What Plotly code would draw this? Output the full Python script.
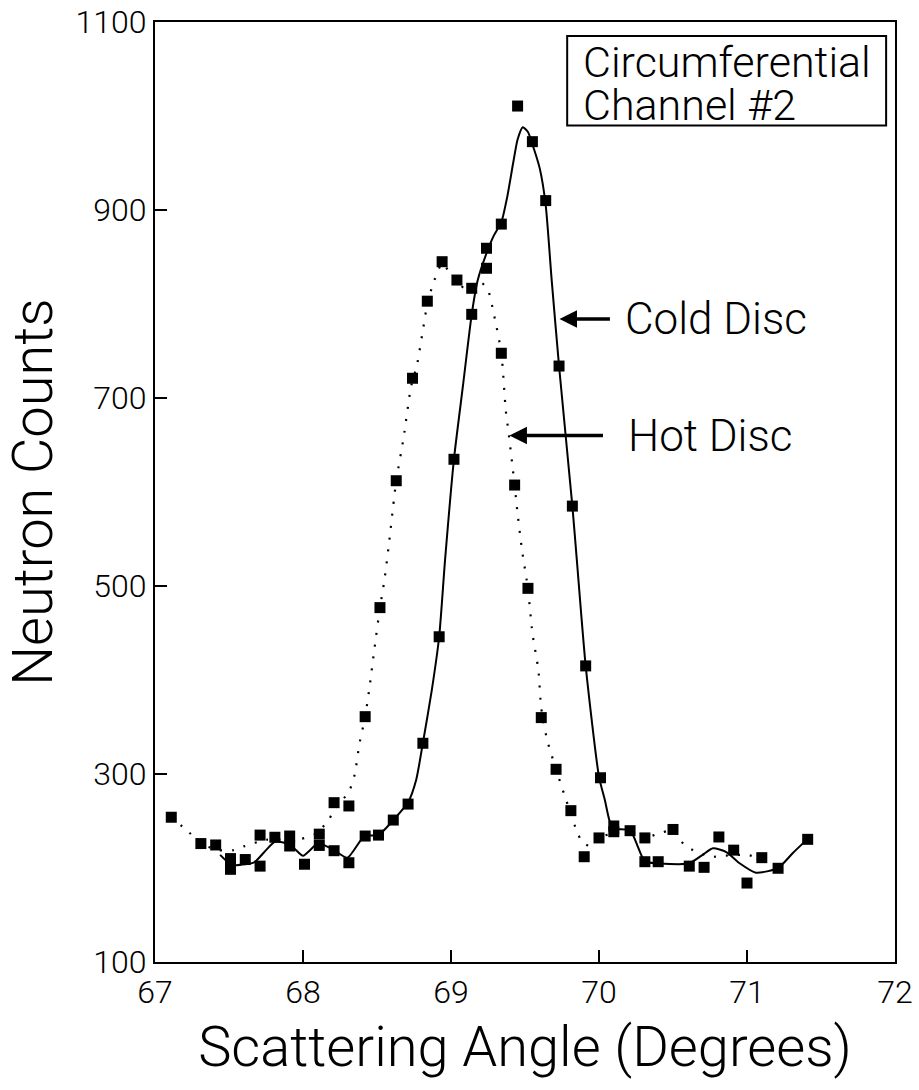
import plotly.graph_objects as go

# ---- data ----
hot_x = [67.11, 67.31, 67.41, 67.51, 67.71, 67.91, 68.11, 68.21, 68.31, 68.42, 68.52, 68.63,
         68.74, 68.84, 68.94, 69.04, 69.14, 69.24, 69.34, 69.43, 69.52, 69.61, 69.71, 69.81,
         69.90, 70.00, 70.10, 70.31, 70.50, 70.91, 71.10]
hot_y = [254, 226, 224.5, 198.6, 235, 234, 236, 269.5, 266, 361, 477, 612,
         721, 803, 845, 825.5, 816.7, 838, 747.6, 607.4, 497.5, 360, 305, 261,
         212, 232, 244.7, 232, 241, 219, 211]

cold_x = [67.51, 67.61, 67.71, 67.81, 67.91, 68.01, 68.11, 68.21, 68.31, 68.42, 68.51, 68.61,
          68.71, 68.81, 68.92, 69.02, 69.14, 69.24, 69.34, 69.45, 69.55, 69.64, 69.73, 69.82,
          69.91, 70.01, 70.10, 70.21, 70.31, 70.40, 70.61, 70.71, 70.81, 71.00, 71.21, 71.41]
cold_y = [210, 209, 202, 232.7, 223.4, 204, 224, 218.4, 205.6, 234, 235, 251,
          268, 332.7, 446, 634.8, 789, 859.3, 885, 1010.6, 972.7, 910, 734, 585,
          415, 296, 238.6, 239.7, 206.7, 206.7, 202, 200.7, 233, 184, 199.7, 230.5]

# smoothed fit curves
cold_fit_x = [67.44, 67.51, 67.55, 67.67, 67.75, 67.81, 67.89, 67.94, 68.00, 68.10, 68.16, 68.21,
              68.30, 68.415, 68.51, 68.61, 68.71, 68.765, 68.81, 68.87, 68.92, 68.96, 69.02, 69.08,
              69.14, 69.18, 69.24, 69.29, 69.34, 69.38, 69.42, 69.45, 69.485, 69.52, 69.55, 69.60,
              69.64, 69.68, 69.73, 69.82, 69.85, 69.91, 70.00, 70.04, 70.07, 70.10, 70.21, 70.31,
              70.40, 70.61, 70.70, 70.77, 70.86, 70.95, 71.06, 71.21, 71.31, 71.41]
cold_fit_y = [214, 204, 203, 206, 219, 228, 226, 221, 213, 226, 223, 219,
              211, 234, 235, 251, 270, 294, 333, 389, 446, 528, 635, 712,
              789, 825, 854, 873, 887, 914, 950, 975, 988, 983, 970, 944,
              905, 826, 734, 585, 528, 415, 297, 272, 251, 242, 240, 207,
              205, 205, 214, 221, 217, 205, 195, 200, 216, 231]

hot_fit_x = [67.11, 67.23, 67.31, 67.43, 67.53, 67.60, 67.75, 67.90, 67.99, 68.08, 68.17, 68.21,
             68.31, 68.35, 68.38, 68.42, 68.45, 68.48, 68.52, 68.55, 68.58, 68.63, 68.68, 68.73,
             68.77, 68.81, 68.84, 68.88, 68.94, 68.99, 69.04, 69.10, 69.16, 69.21, 69.25, 69.29,
             69.34, 69.37, 69.39, 69.43, 69.45, 69.48, 69.52, 69.55, 69.59, 69.61, 69.65, 69.71,
             69.77, 69.81, 69.85, 69.89, 69.95, 70.00, 70.10, 70.20, 70.31, 70.39, 70.50, 70.55,
             70.61, 70.76, 70.84, 70.99, 71.10]
hot_fit_y = [254, 238, 226, 219, 219, 223, 230, 230, 231, 236, 250, 262,
             281, 300, 331, 361, 393, 430, 477, 506, 544, 612, 658, 712,
             735, 772, 800, 822, 843, 834, 825, 815, 817, 822, 815, 789,
             748, 687, 662, 607, 577, 538, 497, 450, 411, 370, 336, 305,
             276, 258, 239, 227, 223, 232, 237, 236, 232, 236, 240, 229,
             221, 212, 213, 214, 211]

x_ticks = [67, 68, 69, 70, 71, 72]
y_ticks = [100, 300, 500, 700, 900, 1100]

FONT = "Roboto, Liberation Sans, Arial, sans-serif"
W = 300  # light weight

fig = go.Figure()
fig.add_trace(go.Scatter(x=hot_fit_x, y=hot_fit_y, mode="lines", name="Hot Disc fit",
                         line=dict(color="black", width=2.2, dash="2px,10px", shape="spline", smoothing=0.6),
                         hoverinfo="skip"))
fig.add_trace(go.Scatter(x=cold_fit_x, y=cold_fit_y, mode="lines", name="Cold Disc fit",
                         line=dict(color="black", width=2, shape="spline", smoothing=0.6),
                         hoverinfo="skip"))
fig.add_trace(go.Scatter(x=hot_x, y=hot_y, mode="markers", name="Hot Disc",
                         marker=dict(symbol="square", size=11, color="black")))
fig.add_trace(go.Scatter(x=cold_x, y=cold_y, mode="markers", name="Cold Disc",
                         marker=dict(symbol="square", size=11, color="black")))

axis_common = dict(showline=True, mirror=True, linecolor="black", linewidth=2,
                   ticks="inside", ticklen=12, tickwidth=2, tickcolor="black",
                   showgrid=False, zeroline=False, ticklabeloverflow="allow",
                   tickfont=dict(family=FONT, size=32, color="black", weight=W))

fig.update_xaxes(range=[67, 72], tickvals=x_ticks, ticklabelstandoff=1,
                 title=dict(text="Scattering Angle (Degrees)",
                            font=dict(family=FONT, size=56, color="black", weight=W),
                            standoff=16),
                 automargin=False, **axis_common)
fig.update_yaxes(range=[100, 1100], tickvals=y_ticks, ticklabelstandoff=0,
                 title=dict(text="Neutron Counts",
                            font=dict(family=FONT, size=56, color="black", weight=W),
                            standoff=36),
                 automargin=False, **axis_common)

annotations = [
    dict(x=69.733, y=784, ax=70.084, ay=784, xref="x", yref="y", axref="x", ayref="y",
         text="", showarrow=True, arrowhead=2, arrowsize=1.0, arrowwidth=3.5, arrowcolor="black", standoff=0),
    dict(x=69.395, y=660, ax=70.037, ay=660, xref="x", yref="y", axref="x", ayref="y",
         text="", showarrow=True, arrowhead=2, arrowsize=1.0, arrowwidth=3.5, arrowcolor="black", standoff=0),
    dict(x=70.16, y=784, xref="x", yref="y", text="Cold Disc", showarrow=False, xanchor="left",
         yanchor="middle", font=dict(family=FONT, size=44, color="black", weight=W)),
    dict(x=70.18, y=660, xref="x", yref="y", text="Hot Disc", showarrow=False, xanchor="left",
         yanchor="middle", font=dict(family=FONT, size=44, color="black", weight=W)),
    dict(x=0.576, y=0.957, xref="paper", yref="paper", text="Circumferential", showarrow=False,
         xanchor="left", yanchor="middle", font=dict(family=FONT, size=43, color="black", weight=W)),
    dict(x=0.576, y=0.912, xref="paper", yref="paper", text="Channel #2", showarrow=False,
         xanchor="left", yanchor="middle", font=dict(family=FONT, size=43, color="black", weight=W)),
]

shapes = [dict(type="rect", xref="paper", yref="paper", x0=0.557, x1=0.988, y0=0.890, y1=0.985,
               line=dict(color="black", width=2), fillcolor="rgba(0,0,0,0)")]

fig.update_layout(width=919, height=1090, margin=dict(l=155, r=24, t=22, b=128),
                  plot_bgcolor="white", paper_bgcolor="white", showlegend=False,
                  annotations=annotations, shapes=shapes,
                  font=dict(family=FONT, color="black"))

# remove the browser's default 8px body margin so the figure fills the window exactly
fig.write_html("out.html", config={"displayModeBar": False},
               post_script="document.body.style.margin='0';document.body.style.overflow='hidden';")
